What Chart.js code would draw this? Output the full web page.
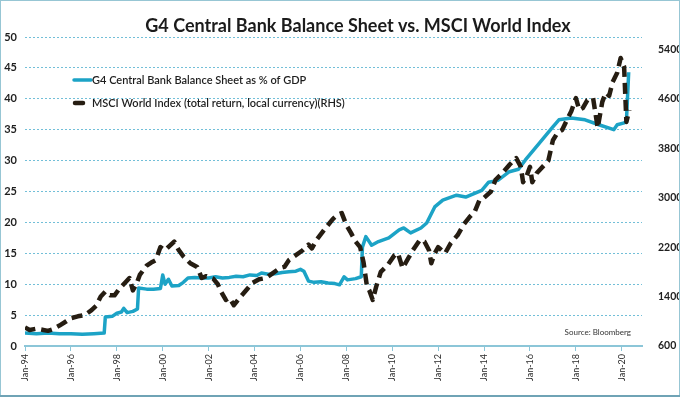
<!DOCTYPE html>
<html><head><meta charset="utf-8">
<script src="https://cdn.jsdelivr.net/npm/chart.js@4"></script>
<style>html,body{margin:0;padding:0;background:#fff;}canvas{display:block;}</style>
</head><body>
<canvas id="c" width="680" height="397"></canvas>
<script>
const titleText = 'G4 Central Bank Balance Sheet vs. MSCI World Index';
const seriesNames = ['G4 Central Bank Balance Sheet as % of GDP', 'MSCI World Index (total return, local currency)(RHS)'];
const sourceText = 'Source: Bloomberg';

const bsDates = [1994.0,1994.5,1995.0,1995.5,1996.0,1996.5,1997.0,1997.45,1997.5,1997.8,1998.0,1998.2,1998.3,1998.45,1998.7,1998.9,1998.95,1999.3,1999.6,1999.9,2000.0,2000.1,2000.25,2000.4,2000.7,2000.9,2001.1,2001.4,2001.7,2002.0,2002.3,2002.6,2002.9,2003.2,2003.5,2003.8,2004.1,2004.3,2004.6,2004.9,2005.2,2005.5,2005.8,2006.0,2006.15,2006.35,2006.6,2006.9,2007.2,2007.5,2007.7,2007.9,2008.05,2008.4,2008.65,2008.7,2008.85,2009.1,2009.4,2009.85,2010.3,2010.5,2010.8,2011.25,2011.5,2011.85,2012.2,2012.8,2013.2,2013.9,2014.2,2014.6,2015.1,2015.5,2015.8,2016.4,2016.96,2017.26,2017.8,2018.4,2019.0,2019.65,2019.8,2020.1,2020.2,2020.3];
const bsValues = [2.1,2.0,2.1,2.0,2.0,1.9,2.0,2.1,4.7,4.8,5.3,5.5,6.1,5.4,5.6,6.0,9.4,9.2,9.2,9.3,11.5,10.0,10.8,9.7,9.8,10.3,11.0,11.1,11.0,11.0,11.2,11.0,11.1,11.3,11.2,11.5,11.4,11.8,11.6,11.7,11.9,12.0,12.1,12.4,12.1,10.5,10.3,10.4,10.2,10.1,9.9,11.2,10.7,10.9,11.2,16.0,17.7,16.3,16.9,17.5,18.8,19.1,18.3,19.1,19.9,22.5,23.6,24.4,24.1,25.2,26.5,26.8,28.2,28.6,30.1,32.8,35.3,36.6,36.9,36.6,35.8,35.0,35.8,36.1,36.3,44.3];

const msciDates = [1994.0,1994.2,1994.5,1994.8,1995.0,1995.2,1995.5,1995.8,1996.0,1996.3,1996.6,1996.9,1997.1,1997.3,1997.5,1997.7,1997.9,1998.1,1998.4,1998.55,1998.7,1998.85,1999.0,1999.3,1999.5,1999.7,1999.9,2000.1,2000.3,2000.5,2000.7,2000.9,2001.2,2001.5,2001.7,2001.9,2002.2,2002.4,2002.55,2002.75,2002.9,2003.1,2003.4,2003.7,2003.9,2004.2,2004.5,2004.8,2005.1,2005.3,2005.5,2005.8,2006.1,2006.35,2006.5,2006.7,2007.1,2007.4,2007.6,2007.8,2008.0,2008.2,2008.4,2008.6,2008.75,2008.9,2009.0,2009.15,2009.3,2009.5,2009.8,2010.1,2010.25,2010.45,2010.7,2010.9,2011.2,2011.4,2011.6,2011.7,2011.85,2012.0,2012.3,2012.55,2012.85,2013.1,2013.4,2013.6,2013.8,2014.0,2014.3,2014.5,2014.8,2015.1,2015.4,2015.6,2015.7,2015.85,2016.0,2016.1,2016.3,2016.6,2016.8,2017.0,2017.2,2017.4,2017.6,2017.8,2018.0,2018.15,2018.3,2018.5,2018.75,2018.95,2019.15,2019.3,2019.45,2019.6,2019.8,2019.95,2020.1,2020.2,2020.33];
const msciValues = [900,860,880,860,845,870,930,1000,1050,1080,1100,1180,1250,1400,1480,1420,1420,1520,1640,1700,1500,1600,1750,1900,1950,1990,2200,2150,2220,2290,2150,2050,1940,1880,1700,1730,1690,1600,1475,1345,1380,1260,1400,1530,1620,1680,1700,1780,1860,1880,1990,2070,2150,2240,2180,2315,2510,2650,2720,2750,2560,2430,2290,2200,1950,1560,1500,1345,1560,1800,1910,2070,2100,1860,2020,2150,2315,2290,2150,1940,2100,2200,2100,2265,2395,2560,2700,2780,2960,3000,3100,3290,3400,3530,3640,3500,3250,3350,3500,3250,3400,3520,3600,3930,4050,4095,4250,4400,4610,4420,4450,4580,4610,4130,4550,4700,4650,4870,5020,5260,5120,4225,4420];

const xTickYears = [1994,1996,1998,2000,2002,2004,2006,2008,2010,2012,2014,2016,2018,2020];
const xTickLabels = ['Jan-94','Jan-96','Jan-98','Jan-00','Jan-02','Jan-04','Jan-06','Jan-08','Jan-10','Jan-12','Jan-14','Jan-16','Jan-18','Jan-20'];
const leftTicks = [0,5,10,15,20,25,30,35,40,45,50];
const rightTicks = [600,1400,2200,3000,3800,4600,5400];

const BLUE = '#1ca3c6';
const DARK = '#261d12';
const GRID = '#72bfd8';
const AXIS = '#8cc6d8';
const FONT = 'Lato, "Open Sans", sans-serif';

const deco = {
  id: 'deco',
  beforeDraw(chart) {
    const c = chart.ctx;
    c.save();
    c.fillStyle = '#fff';
    c.fillRect(0, 0, chart.width, chart.height);
    c.restore();
  },
  afterDraw(chart) {
    const c = chart.ctx;
    const a = chart.chartArea;
    c.save();
    // frame
    c.strokeStyle = '#97c6d4';
    c.lineWidth = 1;
    c.strokeRect(0.5, 0.5, chart.width - 1, chart.height - 2);
    c.fillStyle = '#6fa3b5';
    c.fillRect(0, chart.height - 2, chart.width, 2);
    // title
    c.fillStyle = '#1b1b1b';
    c.font = 'bold 18px ' + FONT;
    c.textAlign = 'center';
    c.textBaseline = 'alphabetic';
    c.fillText(titleText, 358, 32);
    // legend
    c.textAlign = 'left';
    c.textBaseline = 'middle';
    c.font = '600 11px ' + FONT;
    c.strokeStyle = BLUE; c.lineWidth = 3.5; c.lineCap = 'round';
    c.beginPath(); c.moveTo(74, a.top + 43); c.lineTo(91, a.top + 43); c.stroke();
    c.fillStyle = '#1e1e1e';
    c.fillText(seriesNames[0], 92, a.top + 43);
    c.strokeStyle = DARK; c.lineWidth = 4.5; c.lineCap = 'round';
    c.beginPath(); c.moveTo(75, a.top + 66); c.lineTo(83, a.top + 66); c.stroke();
    c.fillText(seriesNames[1], 92, a.top + 66);
    // source
    c.font = '8px ' + FONT;
    c.fillStyle = '#333';
    c.textAlign = 'right';
    c.fillText(sourceText, a.right - 11, a.bottom - 14);
    c.restore();
  }
};

new Chart(document.getElementById('c'), {
  type: 'line',
  data: {
    datasets: [
      {
        label: seriesNames[1],
        data: msciDates.map((d, i) => ({x: d, y: msciValues[i]})),
        yAxisID: 'y2',
        borderColor: DARK,
        borderWidth: 4.5,
        borderDash: [11, 6],
        borderCapStyle: 'butt',
        borderJoinStyle: 'round',
        pointRadius: 0,
        tension: 0,
        order: 0
      },
      {
        label: seriesNames[0],
        data: bsDates.map((d, i) => ({x: d, y: bsValues[i]})),
        yAxisID: 'y',
        borderColor: BLUE,
        borderWidth: 3.5,
        borderJoinStyle: 'round',
        pointRadius: 0,
        tension: 0,
        order: 1
      }
    ]
  },
  options: {
    responsive: false,
    animation: false,
    devicePixelRatio: 1,
    layout: {padding: {top: 37, left: 0, right: 0, bottom: 0}},
    plugins: {legend: {display: false}, title: {display: false}, tooltip: {enabled: false}},
    scales: {
      x: {
        type: 'linear', min: 1994, max: 2020.88,
        afterBuildTicks: s => { s.ticks = xTickYears.map(v => ({value: v})); },
        afterFit: s => { s.height = 51; },
        ticks: {
          autoSkip: false, minRotation: 90, maxRotation: 90, padding: 3,
          color: '#2a2a2a', font: {family: FONT, size: 9},
          callback: v => xTickLabels[xTickYears.indexOf(v)]
        },
        grid: {drawOnChartArea: false, drawTicks: true, tickLength: 5, color: AXIS, lineWidth: 1},
        border: {display: true, color: AXIS, width: 2}
      },
      y: {
        position: 'left', min: 0, max: 50,
        afterBuildTicks: s => { s.ticks = leftTicks.map(v => ({value: v})); },
        afterFit: s => { s.width = 25; },
        ticks: {padding: 8, color: '#1e1e1e', font: {family: FONT, size: 11, weight: 'bold'}, callback: v => String(v)},
        grid: {drawTicks: false, color: GRID, lineWidth: 1},
        border: {display: false, dash: [2, 2]}
      },
      y2: {
        position: 'right', min: 600, max: 5600,
        afterBuildTicks: s => { s.ticks = rightTicks.map(v => ({value: v})); },
        afterFit: s => { s.width = 38; },
        ticks: {padding: 8, color: '#1e1e1e', font: {family: FONT, size: 10.5, weight: 'bold'}, callback: v => String(v)},
        grid: {display: false},
        border: {display: false}
      }
    }
  },
  plugins: [deco]
});
</script>
</body></html>
